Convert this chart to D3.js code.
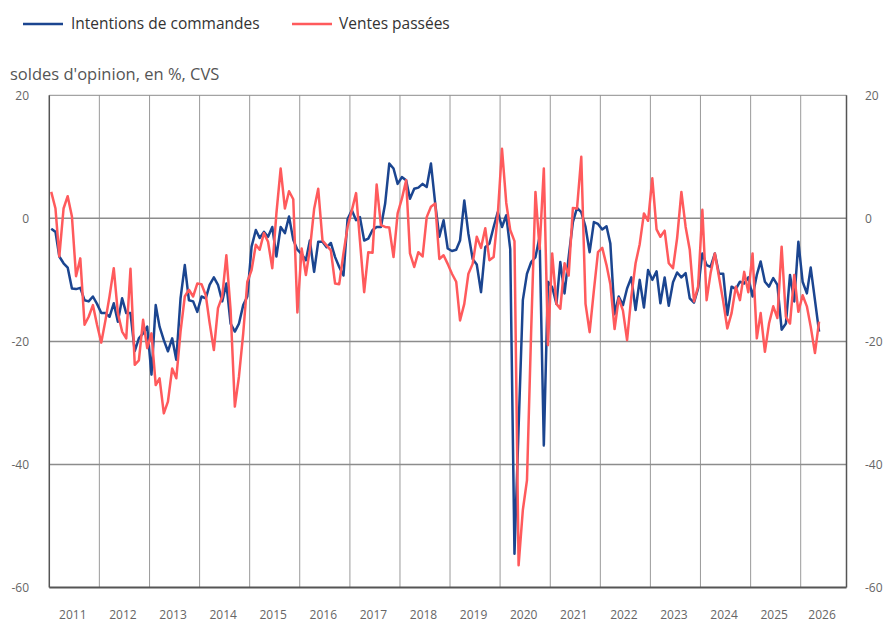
<!DOCTYPE html>
<html><head><meta charset="utf-8">
<script src="https://cdn.jsdelivr.net/npm/d3@7/dist/d3.min.js"></script>
<style>body{margin:0;background:#fff;} text{font-family:"Open Sans","Noto Sans",sans-serif;}</style>
</head><body><svg id="c" width="884" height="622"></svg>
<script>
const startYear = 2011, startMonth = 0;
const seriesNames = ["Intentions de commandes", "Ventes passées"];
const seriesColors = ["#1b4590", "#ff5a5c"];
const yTicks = [20, 0, -20, -40, -60];
const yearLabels = d3.range(2011, 2027);

const intentions = [
-1.7,-2.2,-6.2,-7.3,-8.0,-11.4,-11.5,-11.3,-13.3,-13.5,-12.7,-13.9,
-15.4,-15.4,-16.0,-13.8,-16.8,-13.0,-15.4,-15.4,-21.6,-19.5,-18.7,-17.6,
-25.4,-14.1,-17.6,-19.8,-21.6,-19.5,-23.0,-13.0,-7.6,-13.3,-13.5,-15.2,
-12.7,-13.0,-10.8,-9.6,-10.8,-13.5,-10.6,-17.1,-18.4,-17.1,-14.1,-12.7,
-4.6,-1.9,-3.2,-2.2,-3.0,-1.4,-6.2,-1.4,-2.4,0.3,-3.5,-5.1,
-5.8,-6.8,-3.6,-8.7,-3.8,-3.8,-4.7,-4.0,-6.3,-7.9,-9.3,-0.1,
1.3,-0.3,0.2,-3.6,-3.3,-1.9,-1.4,-1.4,2.4,8.9,8.1,5.6,
6.7,6.2,3.2,4.8,5.0,5.6,5.1,8.9,2.4,-3.0,-0.3,-4.9,
-5.3,-5.1,-3.6,2.9,-2.5,-6.6,-7.5,-12.0,-4.7,-4.1,-1.4,1.0,
-1.4,0.5,-5.0,-54.5,-34.0,-13.3,-9.0,-7.1,-6.3,-3.0,-36.9,-10.3,
-11.2,-13.9,-7.1,-12.2,-6.3,-0.6,1.7,1.0,-1.4,-5.5,-0.6,-0.9,
-1.8,-1.3,-4.1,-15.6,-12.7,-14.1,-11.4,-9.6,-14.9,-10.0,-14.5,-8.4,
-10.0,-8.6,-13.8,-9.6,-14.2,-10.4,-8.8,-9.6,-8.9,-13.0,-13.7,-11.4,
-5.7,-7.6,-7.9,-5.7,-9.0,-9.0,-15.7,-11.1,-11.5,-10.3,-10.6,-9.6,
-12.7,-9.2,-7.0,-10.3,-11.1,-9.7,-10.8,-18.1,-17.1,-9.2,-13.5,-3.8,
-10.3,-12.2,-8.0,-13.3,-18.4
];
const ventes = [
4.3,1.6,-6.2,1.6,3.6,0.3,-9.4,-6.5,-17.3,-16.0,-14.1,-17.3,
-20.2,-16.5,-12.7,-8.1,-15.4,-18.4,-19.5,-8.2,-23.8,-23.1,-16.5,-21.1,
-18.7,-27.1,-26.0,-31.7,-29.8,-24.4,-26.0,-18.4,-12.7,-11.6,-12.7,-10.6,
-10.7,-12.5,-17.0,-21.4,-14.6,-12.7,-6.0,-14.9,-30.6,-25.7,-18.7,-10.3,
-8.4,-4.3,-5.1,-2.4,-3.8,-8.1,0.8,8.1,1.6,4.4,3.1,-15.3,
-4.9,-9.2,-5.1,1.5,4.8,-3.6,-4.4,-5.2,-10.6,-10.7,-5.7,-1.4,
1.3,4.1,-3.6,-12.0,-5.5,-5.6,5.5,-1.1,-1.4,-1.5,-6.3,0.8,
3.2,6.2,-5.7,-7.9,-5.5,-6.2,0.2,1.9,2.4,-6.6,-6.0,-7.4,
-9.0,-10.3,-16.6,-13.9,-9.0,-7.4,-3.0,-4.8,-1.6,-6.8,-6.3,0.5,
11.3,2.5,-1.9,-3.7,-56.4,-47.4,-42.6,-18.0,4.3,-5.0,8.1,-20.6,
-5.7,-13.9,-14.7,-7.3,-9.3,1.7,1.6,10.0,-13.9,-18.5,-11.7,-5.5,
-4.8,-7.6,-10.7,-18.0,-13.0,-15.0,-19.8,-12.7,-7.3,-4.2,0.8,-0.4,
6.5,-1.8,-3.0,-2.0,-7.3,-8.1,-3.2,4.3,-1.4,-5.1,-13.5,-11.1,
1.4,-13.3,-8.9,-5.7,-9.5,-13.5,-17.9,-15.4,-11.1,-13.3,-8.7,-12.0,
-5.7,-19.5,-15.4,-21.7,-17.1,-14.3,-16.2,-4.6,-16.0,-17.1,-9.2,-15.2,
-12.5,-14.3,-17.6,-21.9,-16.8
];

const svg = d3.select("#c");
const L = 49.3, R = 846.5, T = 95.3, B = 587.5;
const x = d3.scaleTime().domain([new Date(2011,0,1), new Date(2026,11,1)]).range([L, R]);
const y = d3.scaleLinear().domain([-60, 20]).range([B, T]);
const dateOf = i => new Date(startYear, startMonth + i, 15);

// vertical year grid
const years = d3.range(2012, 2027).map(yy => new Date(yy,0,1));
svg.append("g").selectAll("line").data(years).join("line")
  .attr("x1", d => x(d)).attr("x2", d => x(d)).attr("y1", T).attr("y2", B)
  .attr("stroke", "#9a9a9a").attr("stroke-width", 1);
// horizontal grid
svg.append("g").selectAll("line").data([0,-20,-40]).join("line")
  .attr("x1", L).attr("x2", R).attr("y1", d => y(d)).attr("y2", d => y(d))
  .attr("stroke", "#8c8c8c").attr("stroke-width", 1.5);
// frame
svg.append("line").attr("x1", L).attr("x2", R).attr("y1", T).attr("y2", T).attr("stroke", "#8c8c8c").attr("stroke-width", 1);
svg.append("line").attr("x1", L).attr("x2", L).attr("y1", T).attr("y2", B).attr("stroke", "#555").attr("stroke-width", 1.5);
svg.append("line").attr("x1", R).attr("x2", R).attr("y1", T).attr("y2", B).attr("stroke", "#555").attr("stroke-width", 1.5);
svg.append("line").attr("x1", L).attr("x2", R).attr("y1", B).attr("y2", B).attr("stroke", "#555").attr("stroke-width", 2);

// y tick labels
const ty = svg.append("g").attr("font-size", 12).attr("fill", "#666");
ty.selectAll("text.l").data(yTicks).join("text").attr("class","l")
  .attr("x", 29).attr("y", d => y(d)).attr("dy", "0.35em").attr("text-anchor", "end").text(d => d);
ty.selectAll("text.r").data(yTicks).join("text").attr("class","r")
  .attr("x", 865).attr("y", d => y(d)).attr("dy", "0.35em").attr("text-anchor", "start").text(d => d);

// x year labels centered in visible interval
const d0 = x.domain()[0], d1 = x.domain()[1];
svg.append("g").attr("font-size", 12).attr("fill", "#666").selectAll("text").data(yearLabels).join("text")
  .attr("x", yy => {
    const a = Math.max(+new Date(yy,0,1), +d0), b = Math.min(+new Date(yy+1,0,1), +d1);
    return (x(new Date(a)) + x(new Date(b))) / 2 - 1.5;
  })
  .attr("y", 615).attr("dy", "0.35em").attr("text-anchor", "middle").text(yy => yy);

// lines
const line = d3.line().x((d,i) => x(dateOf(i))).y(d => y(d)).curve(d3.curveLinear);
[intentions, ventes].forEach((s, k) => {
  svg.append("path").datum(s).attr("d", line).attr("fill", "none")
    .attr("stroke", seriesColors[k]).attr("stroke-width", 2.5).attr("stroke-linejoin", "round");
});

// legend
const leg = [{x:23, tx:71}, {x:292, tx:339}];
leg.forEach((p, k) => {
  svg.append("line").attr("x1", p.x).attr("x2", p.x + 40).attr("y1", 24).attr("y2", 24)
    .attr("stroke", seriesColors[k]).attr("stroke-width", 2.5);
  svg.append("text").attr("x", p.tx).attr("y", 24).attr("dy", "0.35em")
    .attr("font-size", 15.5).attr("fill", "#333").text(seriesNames[k]);
});
// subtitle
svg.append("text").attr("x", 10).attr("y", 79.5)
  .attr("font-size", 16.5).attr("fill", "#555").text("soldes d'opinion, en %, CVS");
</script></body></html>
